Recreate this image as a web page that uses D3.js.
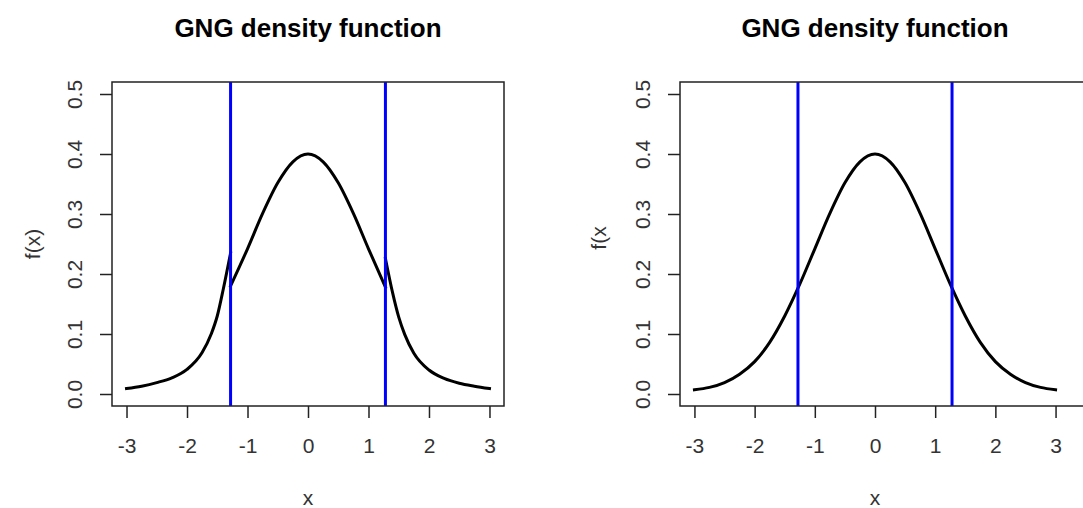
<!DOCTYPE html>
<html>
<head>
<meta charset="utf-8">
<script src="https://cdn.jsdelivr.net/npm/d3@7"></script>
<style>
  body { margin: 0; background: #fff; }
  svg { display: block; }
  text { font-family: "Liberation Sans", Arial, sans-serif; }
</style>
</head>
<body>
<div id="chart"></div>
<script>
// tick values and cut points
const xTicks = [-3, -2, -1, 0, 1, 2, 3];
const yTicks = [0, 0.1, 0.2, 0.3, 0.4, 0.5];
const cutoffs = [-1.28, 1.28];

// left panel: GNG density, a repeated x means the curve jumps there
const gngX = [-3, -2.75, -2.5, -2.25, -2, -1.75, -1.6, -1.5, -1.4, -1.28,
              -1.28, -1, -0.75, -0.5, -0.25, 0, 0.25, 0.5, 0.75, 1, 1.28,
              1.28, 1.4, 1.5, 1.6, 1.75, 2, 2.25, 2.5, 2.75, 3];
const gngY = [0.009, 0.013, 0.019, 0.027, 0.041, 0.069, 0.100, 0.130, 0.175, 0.235,
              0.180, 0.242, 0.301, 0.352, 0.387, 0.400, 0.387, 0.352, 0.301, 0.242, 0.178,
              0.226, 0.168, 0.128, 0.099, 0.068, 0.040, 0.026, 0.018, 0.013, 0.009];

// right panel: smooth density
const normX = [-3, -2.75, -2.5, -2.25, -2, -1.75, -1.5, -1.25, -1, -0.75, -0.5, -0.25,
               0, 0.25, 0.5, 0.75, 1, 1.25, 1.5, 1.75, 2, 2.25, 2.5, 2.75, 3];
const normY = [0.007, 0.011, 0.019, 0.033, 0.054, 0.086, 0.130, 0.183, 0.242, 0.301, 0.352, 0.387,
               0.400, 0.387, 0.352, 0.301, 0.242, 0.183, 0.130, 0.086, 0.054, 0.033, 0.019, 0.011, 0.007];

const W = 1083, H = 508;
const svg = d3.select("#chart").append("svg").attr("width", W).attr("height", H);

// split a series into pieces wherever an x value repeats
function pieces(xs, ys) {
  const out = [[]];
  xs.forEach((v, i) => {
    if (i > 0 && v === xs[i - 1]) out.push([]);
    out[out.length - 1].push([v, ys[i]]);
  });
  return out;
}

function panel(opts) {
  const x = d3.scaleLinear().domain([-3.24, 3.24]).range([opts.left, opts.right]);
  const y = d3.scaleLinear().domain([-0.02, 0.52]).range([406, 82]);
  const g = svg.append("g");
  const top = 82, bottom = 406;

  // title
  g.append("text")
    .attr("x", (opts.left + opts.right) / 2).attr("y", 37)
    .attr("text-anchor", "middle")
    .style("font-size", "26px").style("font-weight", "bold")
    .text("GNG density function");

  // x axis
  const xa = g.append("g").attr("transform", `translate(0,${bottom})`)
    .call(d3.axisBottom(x).tickValues(xTicks).tickSize(12).tickPadding(20));
  xa.select(".domain").remove();
  xa.selectAll("line").attr("stroke", "#222").attr("stroke-width", 1.5);
  xa.selectAll("text").style("font-size", "21px").attr("fill", "#333")
    .text(d => d < 0 ? "-" + Math.abs(d) : d);

  // y axis, labels turned like R
  const ya = g.append("g").attr("transform", `translate(${opts.left},0)`)
    .call(d3.axisLeft(y).tickValues(yTicks).tickSize(12).tickFormat(d3.format(".1f")));
  ya.select(".domain").remove();
  ya.selectAll("line").attr("stroke", "#222").attr("stroke-width", 1.5);
  ya.selectAll("text")
    .attr("x", null).attr("dy", null)
    .attr("text-anchor", "middle")
    .attr("transform", "translate(-30,0) rotate(-90)")
    .style("font-size", "21px").attr("fill", "#333");

  // axis titles
  g.append("text")
    .attr("x", (opts.left + opts.right) / 2).attr("y", 505)
    .attr("text-anchor", "middle").style("font-size", "21px").attr("fill", "#333")
    .text("x");
  g.append("text")
    .attr("transform", `translate(${opts.ylabX},${opts.ylabY}) rotate(-90)`)
    .attr("text-anchor", "middle").style("font-size", "21px").attr("fill", "#333")
    .text(opts.ylab);

  // clip to the plot region
  const clipId = "clip" + opts.id;
  svg.append("clipPath").attr("id", clipId).append("rect")
    .attr("x", opts.left).attr("y", top)
    .attr("width", opts.right - opts.left).attr("height", bottom - top);
  const plot = g.append("g").attr("clip-path", `url(#${clipId})`);

  const line = d3.line().x(d => x(d[0])).y(d => y(d[1])).curve(d3.curveMonotoneX);
  plot.selectAll(".curve").data(pieces(opts.xs, opts.ys)).enter().append("path")
    .attr("class", "curve")
    .attr("fill", "none").attr("stroke", "#000").attr("stroke-width", 3)
    .attr("stroke-linecap", "square")
    .attr("d", line);

  plot.selectAll(".cut").data(cutoffs).enter().append("line")
    .attr("class", "cut")
    .attr("x1", d => x(d)).attr("x2", d => x(d))
    .attr("y1", top).attr("y2", bottom)
    .attr("stroke", "#0000ff").attr("stroke-width", 3);

  // box
  g.append("rect")
    .attr("x", opts.left).attr("y", top)
    .attr("width", opts.boxRight - opts.left).attr("height", bottom - top)
    .attr("fill", "none").attr("stroke", "#222").attr("stroke-width", 1.5);
}

panel({ id: 1, left: 112, right: 504, boxRight: 504, xs: gngX, ys: gngY,
        ylab: "f(x)", ylabX: 40, ylabY: 244 });
panel({ id: 2, left: 680, right: 1070, boxRight: 1100, xs: normX, ys: normY,
        ylab: "f(x", ylabX: 606, ylabY: 238 });
</script>
</body>
</html>
